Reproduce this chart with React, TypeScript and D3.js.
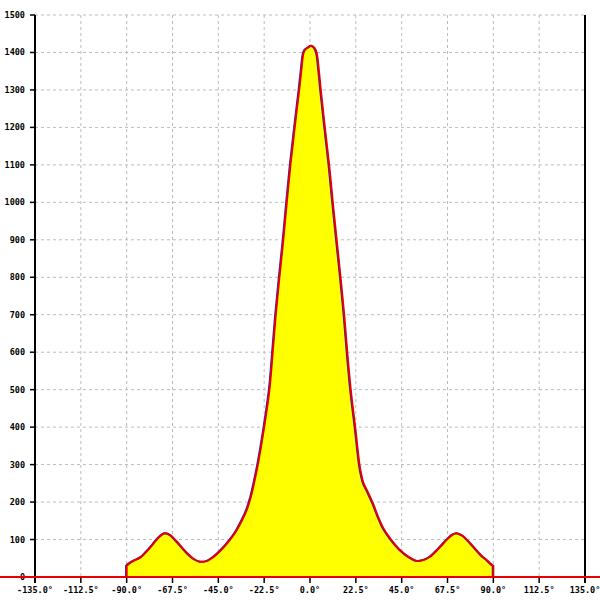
import React from "react";
import * as d3 from "d3";

const angles = [-90, -88.5, -86.7, -83, -80.2, -77, -74, -71.2, -68.5, -66, -63.8, -60, -57, -54, -50.5, -47.5, -44, -39.3, -36, -33.5, -31, -29, -27.3, -25.6, -22.5, -19.9, -18.3, -16.8, -15.0, -13.1, -11.4, -9.6, -7.5, -5.3, -4.2, -3.2, -2.3, -1.0, 0.7, 2.2, 3.3, 4.3, 5.3, 7.3, 9.4, 11.2, 13.1, 15.0, 16.8, 18.3, 20.0, 22.2, 24.3, 25.3, 26.3, 28.5, 31, 33.5, 36, 39.3, 42, 44.2, 48, 52.4, 55.5, 58.9, 63, 67.1, 70, 72, 75, 77.5, 80.2, 84, 87, 89.2, 90];
const values = [30, 37, 43, 53, 68, 88, 107, 117, 112, 98, 85, 62, 48, 41, 43, 53, 70, 99, 125, 150, 180, 215, 255, 300, 400, 500, 600, 700, 800, 900, 1000, 1100, 1200, 1300, 1355, 1398, 1408, 1413, 1418, 1412, 1398, 1355, 1300, 1200, 1100, 1000, 900, 800, 700, 600, 500, 400, 300, 270, 250, 225, 195, 160, 130, 103, 85, 72, 55, 43, 45, 54, 75, 99, 113, 117, 110, 97, 81, 58, 44, 33, 30];

const xTicks = [-135, -112.5, -90, -67.5, -45, -22.5, 0, 22.5, 45, 67.5, 90, 112.5, 135];
const yTicks = [0, 100, 200, 300, 400, 500, 600, 700, 800, 900, 1000, 1100, 1200, 1300, 1400, 1500];

export default function App() {
  const left = 35, right = 585, top = 15, bottom = 577;
  const x = d3.scaleLinear().domain([-135, 135]).range([left, right]);
  const y = d3.scaleLinear().domain([0, 1500]).range([bottom, top]);
  const data = angles.map((a, i) => ({ a, v: values[i] }));
  const area = d3.area<{ a: number; v: number }>()
    .x(d => x(d.a)).y0(y(0)).y1(d => y(d.v))
    .curve(d3.curveCatmullRom.alpha(0.5));
  const line = d3.line<{ a: number; v: number }>()
    .x(d => x(d.a)).y(d => y(d.v))
    .curve(d3.curveCatmullRom.alpha(0.5));
  const lp = line(data) || "";
  const full = `M${x(-90)},${y(0)}L` + lp.slice(1) + `L${x(90)},${y(0)}`;
  const font = "'DejaVu Sans Mono', monospace";
  return (
    <svg width={600} height={600} style={{ position: "absolute", left: 0, top: 0 }}>
      <rect width={600} height={600} fill="#fff" />
      {yTicks.map(t => (
        <line key={"gy" + t} x1={left} x2={right} y1={y(t)} y2={y(t)} stroke="#bbb" strokeWidth={1} strokeDasharray="3,3" />
      ))}
      {xTicks.map(t => (
        <line key={"gx" + t} x1={x(t)} x2={x(t)} y1={top} y2={bottom} stroke="#bbb" strokeWidth={1} strokeDasharray="3,3" />
      ))}
      <path d={area(data) || ""} fill="#ffff00" />
      <path d={full} fill="none" stroke="#2020d0" strokeWidth={2} transform="translate(-0.6,0)" />
      <path d={full} fill="none" stroke="#e80000" strokeWidth={2} />
      <line x1={left} x2={left} y1={top} y2={bottom + 6} stroke="#000" strokeWidth={2} />
      <line x1={right} x2={right} y1={top} y2={bottom + 6} stroke="#000" strokeWidth={2} />
      {yTicks.map(t => (
        <g key={"ty" + t}>
          <line x1={left - 5} x2={left} y1={y(t)} y2={y(t)} stroke="#000" strokeWidth={1.5} />
          <text x={left - 10} y={y(t) + 3} textAnchor="end" fontFamily={font} fontWeight="bold" fontSize={8.5} fill="#000">{t}</text>
        </g>
      ))}
      {xTicks.map(t => (
        <g key={"tx" + t}>
          <line x1={x(t)} x2={x(t)} y1={bottom} y2={bottom + 6} stroke="#000" strokeWidth={1.5} />
          <text x={x(t)} y={bottom + 16} textAnchor="middle" fontFamily={font} fontWeight="bold" fontSize={8.5} fill="#000">{t.toFixed(1) + "°"}</text>
        </g>
      ))}
      <line x1={0} x2={600} y1={bottom} y2={bottom} stroke="#e80000" strokeWidth={2} />
    </svg>
  );
}
